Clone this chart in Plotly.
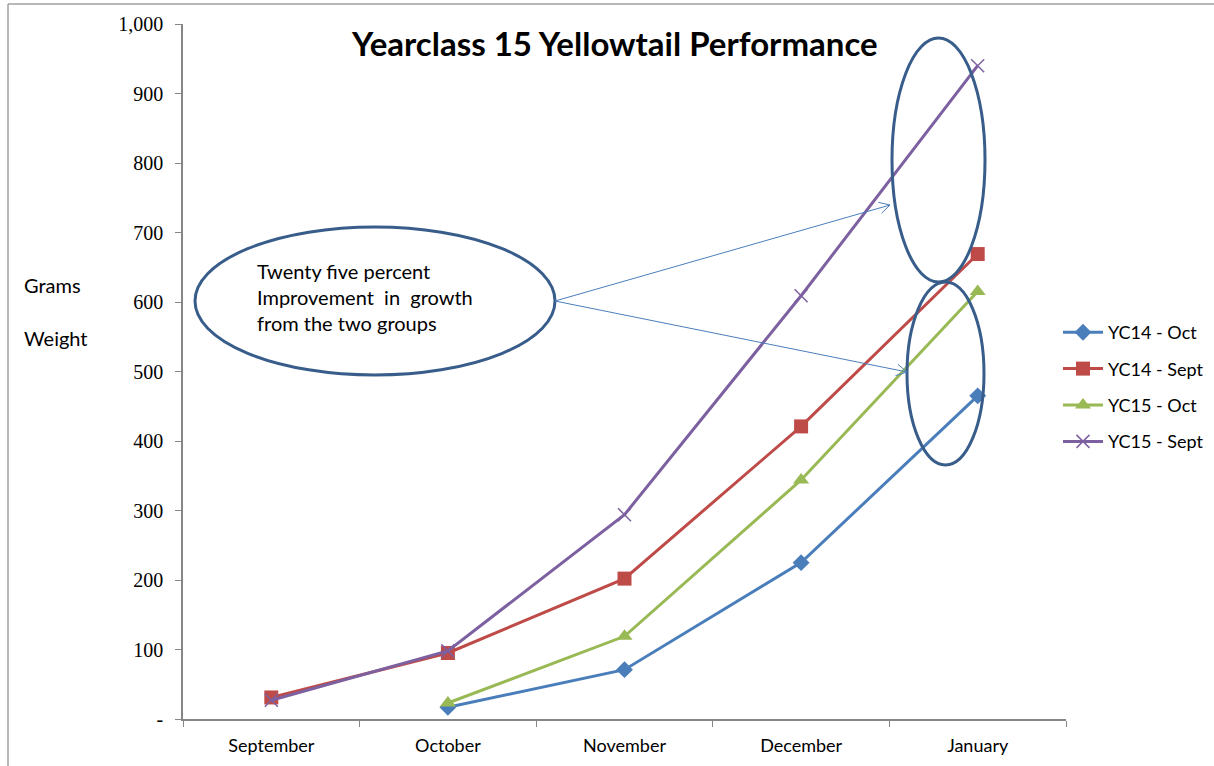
import math
import plotly.graph_objects as go

months = ["September", "October", "November", "December", "January"]
yc14_oct = [None, 17, 71, 225, 465]
yc14_sept = [31, 95, 202, 421, 669]
yc15_oct = [None, 23, 119, 344, 615]
yc15_sept = [27, 98, 294, 609, 940]
y_tickvals = [0, 100, 200, 300, 400, 500, 600, 700, 800, 900, 1000]
y_ticktext = ["-", "100", "200", "300", "400", "500", "600", "700", "800", "900", "1,000"]

W, H = 1214, 766
L, R, T, B = 183, 1066, 24, 719

def px(x):
    return (x - L) / (R - L)

def py(y):
    return (B - y) / (B - T)

fig = go.Figure()
series = [
    ("YC14 - Oct", yc14_oct, "#4A7EBB", "diamond", 13, 0),
    ("YC14 - Sept", yc14_sept, "#BE4B48", "square", 14, 0),
    ("YC15 - Oct", yc15_oct, "#98B954", "triangle-up", 14, 0),
    ("YC15 - Sept", yc15_sept, "#7D60A0", "x-thin", 13, 1.5),
]
for i, (name, vals, col, sym, sz, lw) in enumerate(series):
    fig.add_trace(go.Scatter(
        x=months, y=vals, name=name, mode="lines+markers",
        line=dict(color=col, width=3),
        marker=dict(symbol=sym, size=sz, color=col, line=dict(color=col, width=lw)),
        legendgroup=str(i), connectgaps=False,
    ))

shapes = []
ell = "#385D8A"
def ellipse(x0, y0, x1, y1):
    shapes.append(dict(type="circle", xref="paper", yref="paper",
                       x0=px(x0), x1=px(x1), y0=py(y1), y1=py(y0),
                       line=dict(color=ell, width=3)))
ellipse(195, 227, 555, 375)
ellipse(892, 38, 985, 282)
ellipse(907, 282, 984, 465)

arrow_col = "#4A7EBB"
def arrow(x0, y0, x1, y1):
    shapes.append(dict(type="line", xref="paper", yref="paper",
                       x0=px(x0), y0=py(y0), x1=px(x1), y1=py(y1),
                       line=dict(color=arrow_col, width=1)))
    ang = math.atan2(y1 - y0, x1 - x0)
    for d in (1, -1):
        a = ang + math.pi + d * 0.5
        hx, hy = x1 + 12 * math.cos(a), y1 + 12 * math.sin(a)
        shapes.append(dict(type="line", xref="paper", yref="paper",
                           x0=px(x1), y0=py(y1), x1=px(hx), y1=py(hy),
                           line=dict(color=arrow_col, width=1)))
arrow(555, 301, 890, 205)
arrow(555, 301, 907, 372)

# outer border (left and top)
shapes.append(dict(type="line", xref="paper", yref="paper",
                   x0=px(8), y0=py(4), x1=px(1214), y1=py(4),
                   line=dict(color="#A0A0A0", width=1.5)))
shapes.append(dict(type="line", xref="paper", yref="paper",
                   x0=px(8), y0=py(4), x1=px(8), y1=py(766),
                   line=dict(color="#A0A0A0", width=1.5)))

txt_font = "Lato, Open Sans, sans-serif"
annotations = [
    dict(text="<b>Yearclass 15 Yellowtail Performance</b>", xref="paper", yref="paper",
         x=px(614), y=py(43), xanchor="center", yanchor="middle", showarrow=False,
         font=dict(family=txt_font, size=33, color="black")),
    dict(text="Grams", xref="paper", yref="paper", x=px(22), y=py(285),
         xanchor="left", yanchor="middle", showarrow=False,
         font=dict(family=txt_font, size=20, color="black")),
    dict(text="Weight", xref="paper", yref="paper", x=px(22), y=py(338),
         xanchor="left", yanchor="middle", showarrow=False,
         font=dict(family=txt_font, size=20, color="black")),
    dict(text="Twenty five percent<br>Improvement  in  growth<br>from the two groups",
         xref="paper", yref="paper", x=px(255), y=py(297), xanchor="left", yanchor="middle",
         align="left", showarrow=False,
         font=dict(family=txt_font, size=20, color="black")),
]

fig.update_layout(
    width=W, height=H,
    margin=dict(l=L, r=W - R, t=T, b=H - B, autoexpand=False),
    paper_bgcolor="white", plot_bgcolor="white",
    shapes=shapes, annotations=annotations,
    hovermode=False,
    showlegend=True,
    legend=dict(x=px(1058), y=py(387), xanchor="left", yanchor="middle",
                traceorder="grouped", tracegroupgap=10,
                font=dict(family=txt_font, size=18, color="black"),
                itemwidth=40, bgcolor="rgba(0,0,0,0)"),
    xaxis=dict(type="category", range=[-0.5, 4.5], showgrid=False,
               showline=True, linecolor="#868686", linewidth=1.5,
               ticks="outside", tickson="boundaries", ticklen=6, tickcolor="#868686",
               tickfont=dict(family=txt_font, size=18, color="black"),
               ticklabelstandoff=10, zeroline=False),
    yaxis=dict(range=[0, 1000], showgrid=False, showline=True,
               linecolor="#868686", linewidth=1.5,
               ticks="outside", ticklen=6, tickcolor="#868686",
               tickvals=y_tickvals, ticktext=y_ticktext,
               tickfont=dict(family="Liberation Serif, serif", size=20, color="black"),
               zeroline=False, ticklabelstandoff=8),
)

fig.write_html("out.html")
